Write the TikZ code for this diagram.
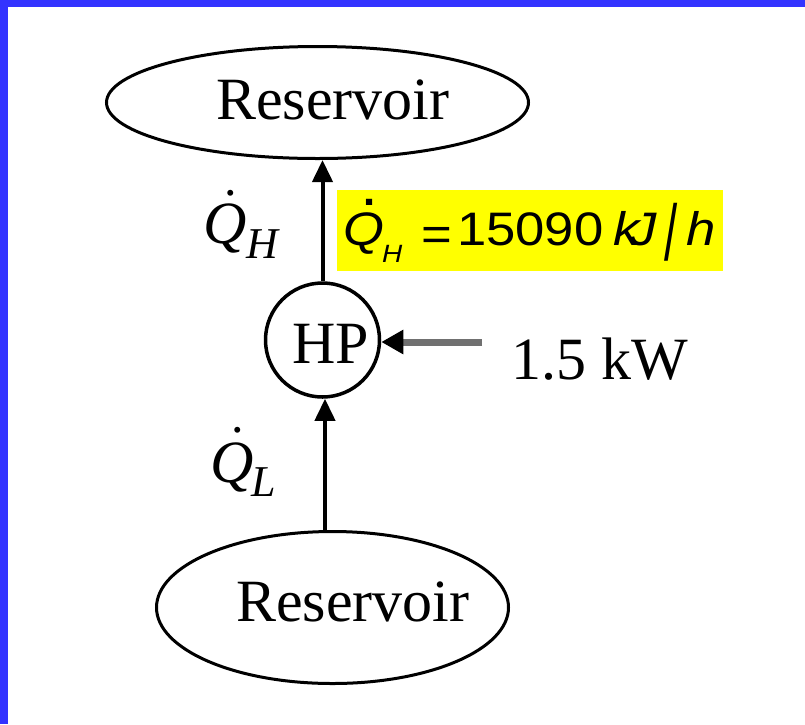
\documentclass[tikz,border=0pt]{standalone}
\usepackage{fontspec}
\setmainfont{Liberation Serif}
\newfontfamily\arialf[FakeStretch=1.12]{Liberation Sans}
\newfontfamily\slashf[FakeStretch=0.6]{Liberation Sans}
\usetikzlibrary{arrows.meta,shapes.geometric}
\definecolor{frameblue}{RGB}{51,51,255}
\definecolor{hiyellow}{RGB}{255,255,0}
\definecolor{wiregray}{RGB}{112,112,112}
\newcommand\putat[2]{\rlap{\kern#1pt\relax #2}}
\tikzset{
  res/.style={draw, ellipse, line width=3pt, inner sep=0pt},
  hpc/.style={draw, circle, line width=3.5pt, inner sep=0pt, minimum size=114pt},
  serif60/.style={inner sep=0pt, anchor=base west, font=\fontsize{60}{60}\selectfont},
  heat/.style={line width=4pt, -{Triangle[length=22pt,width=20pt]}},
  work/.style={line width=7pt, draw=wiregray, -{Triangle[length=22pt,width=23pt,color=black]}},
}
\begin{document}
\begin{tikzpicture}[x=1pt,y=-1pt]
\useasboundingbox (0,0) rectangle (805,724);
\fill[white] (0,0) rectangle (805,724);
\fill[frameblue] (0,0) rectangle (805,7);
\fill[frameblue] (0,0) rectangle (8,724);
% reservoirs
\node[res, minimum width=422pt, minimum height=112pt] (top) at (317.5,102.5) {};
\node[serif60] (toptext) at (216,119) {Reservoir};
\node[res, minimum width=352pt, minimum height=152pt] (bot) at (332.5,607.5) {};
\node[serif60] (bottext) at (236,621) {Reservoir};
% heat pump
\node[hpc] (hp) at (322.5,340) {};
\node[serif60] (hptext) at (292,363) {HP};
% arrows
\draw[heat] (hp.north) -- (hp.north |- top.south);
\draw[heat] ([xshift=2.5pt]hp.south |- bot.north) -- ([xshift=2.5pt]hp.south);
\coordinate (win) at (482,342);
\draw[work] (win) -- (win -| hp.east);
% labels
\node[serif60] (kw) at (511,379) {1.5 kW};
\node[serif60] (qh) at (203,243) {%
  \putat{0}{\itshape Q}%
  \putat{20.5}{\raisebox{48pt}{\fontsize{50}{50}\selectfont .}}%
  \putat{43}{\raisebox{-15pt}{\fontsize{44}{44}\selectfont\itshape H}}};
\node[serif60] (ql) at (210,482) {%
  \putat{0}{\itshape Q}%
  \putat{20.5}{\raisebox{50pt}{\fontsize{50}{50}\selectfont .}}%
  \putat{41}{\raisebox{-14pt}{\fontsize{44}{44}\selectfont\itshape L}}};
% highlighted equation
\node[fill=hiyellow, inner sep=0pt, minimum width=386pt, minimum height=81pt] (eqbox) at (530,230.5) {};
\node[inner sep=0pt, anchor=base west, font=\arialf\fontsize{47}{47}\selectfont] (eq) at (343,245) {%
  \putat{0}{\itshape Q}%
  \putat{17}{\raisebox{39.5pt}{\fontsize{58}{58}\selectfont .}}%
  \putat{38.5}{\raisebox{-17pt}{\fontsize{25}{25}\selectfont\itshape H}}%
  \putat{78}{\raisebox{-5pt}{=}}%
  \putat{113.3}{15090}%
  \putat{270}{\itshape k}%
  \putat{287}{\itshape J}%
  \putat{320.5}{\raisebox{-15.5pt}{\slashf\fontsize{79}{79}\selectfont /}}%
  \putat{343}{\itshape h}};
\end{tikzpicture}
\end{document}
